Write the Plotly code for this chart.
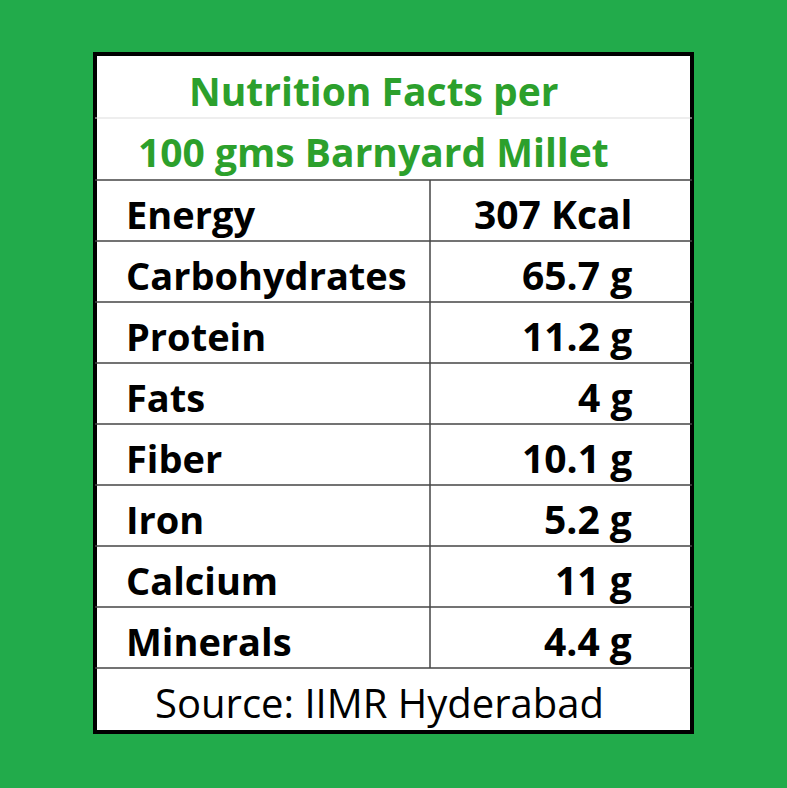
import plotly.graph_objects as go

title_lines = ["Nutrition Facts per", "100 gms Barnyard Millet"]
nutrients = ["Energy", "Carbohydrates", "Protein", "Fats", "Fiber", "Iron", "Calcium", "Minerals"]
amounts = ["307 Kcal", "65.7 g", "11.2 g", "4 g", "10.1 g", "5.2 g", "11 g", "4.4 g"]
source = "Source: IIMR Hyderabad"

W, H = 787, 788
left, right, top, bottom = 95, 692, 54, 732
divider = 430
title_rows = [(58, 118), (118, 180)]
row_h = 61
data_top = 180
bg = "#22ab4b"

fig = go.Figure()
shapes = []
ann = []

shapes.append(dict(type="rect", x0=left, x1=right, y0=top, y1=bottom,
                   fillcolor="white", line=dict(color="black", width=4)))

green = "#2ca02c"
for (y0, y1), txt in zip(title_rows, title_lines):
    ann.append(dict(x=(left + right) / 2 - 20, y=(y0 + y1) / 2 + 2, text="<b>%s</b>" % txt,
                    showarrow=False, font=dict(size=39, color=green, family="Open Sans")))
shapes.append(dict(type="line", x0=left, x1=right, y0=118, y1=118, line=dict(color="#dddddd", width=1)))
shapes.append(dict(type="line", x0=left, x1=right, y0=data_top, y1=data_top, line=dict(color="#444444", width=1.5)))

for i, (name, val) in enumerate(zip(nutrients, amounts)):
    y0 = data_top + i * row_h
    y1 = y0 + row_h
    shapes.append(dict(type="line", x0=left, x1=right, y0=y1, y1=y1, line=dict(color="#444444", width=1.5)))
    ann.append(dict(x=124, y=(y0 + y1) / 2 + 3, text="<b>%s</b>" % name, xanchor="left",
                    showarrow=False, font=dict(size=38, color="black", family="Open Sans")))
    ann.append(dict(x=634, y=(y0 + y1) / 2 + 3, text="<b>%s</b>" % val, xanchor="right",
                    showarrow=False, font=dict(size=39, color="black", family="Open Sans")))

data_bottom = data_top + len(nutrients) * row_h
shapes.append(dict(type="line", x0=divider, x1=divider, y0=data_top, y1=data_bottom,
                   line=dict(color="#444444", width=1.5)))
ann.append(dict(x=(left + right) / 2 - 14, y=(data_bottom + bottom) / 2 + 2, text=source,
                showarrow=False, font=dict(size=40, color="black", family="Open Sans")))

fig.update_layout(
    width=W, height=H, margin=dict(l=0, r=0, t=0, b=0),
    paper_bgcolor=bg, plot_bgcolor=bg,
    xaxis=dict(range=[0, W], visible=False, fixedrange=True),
    yaxis=dict(range=[H, 0], visible=False, fixedrange=True),
    shapes=shapes, annotations=ann, showlegend=False,
)
fig.write_html("out.html", config={"displayModeBar": False},
               post_script="document.body.style.margin='0';document.body.style.background='%s';" % bg)
